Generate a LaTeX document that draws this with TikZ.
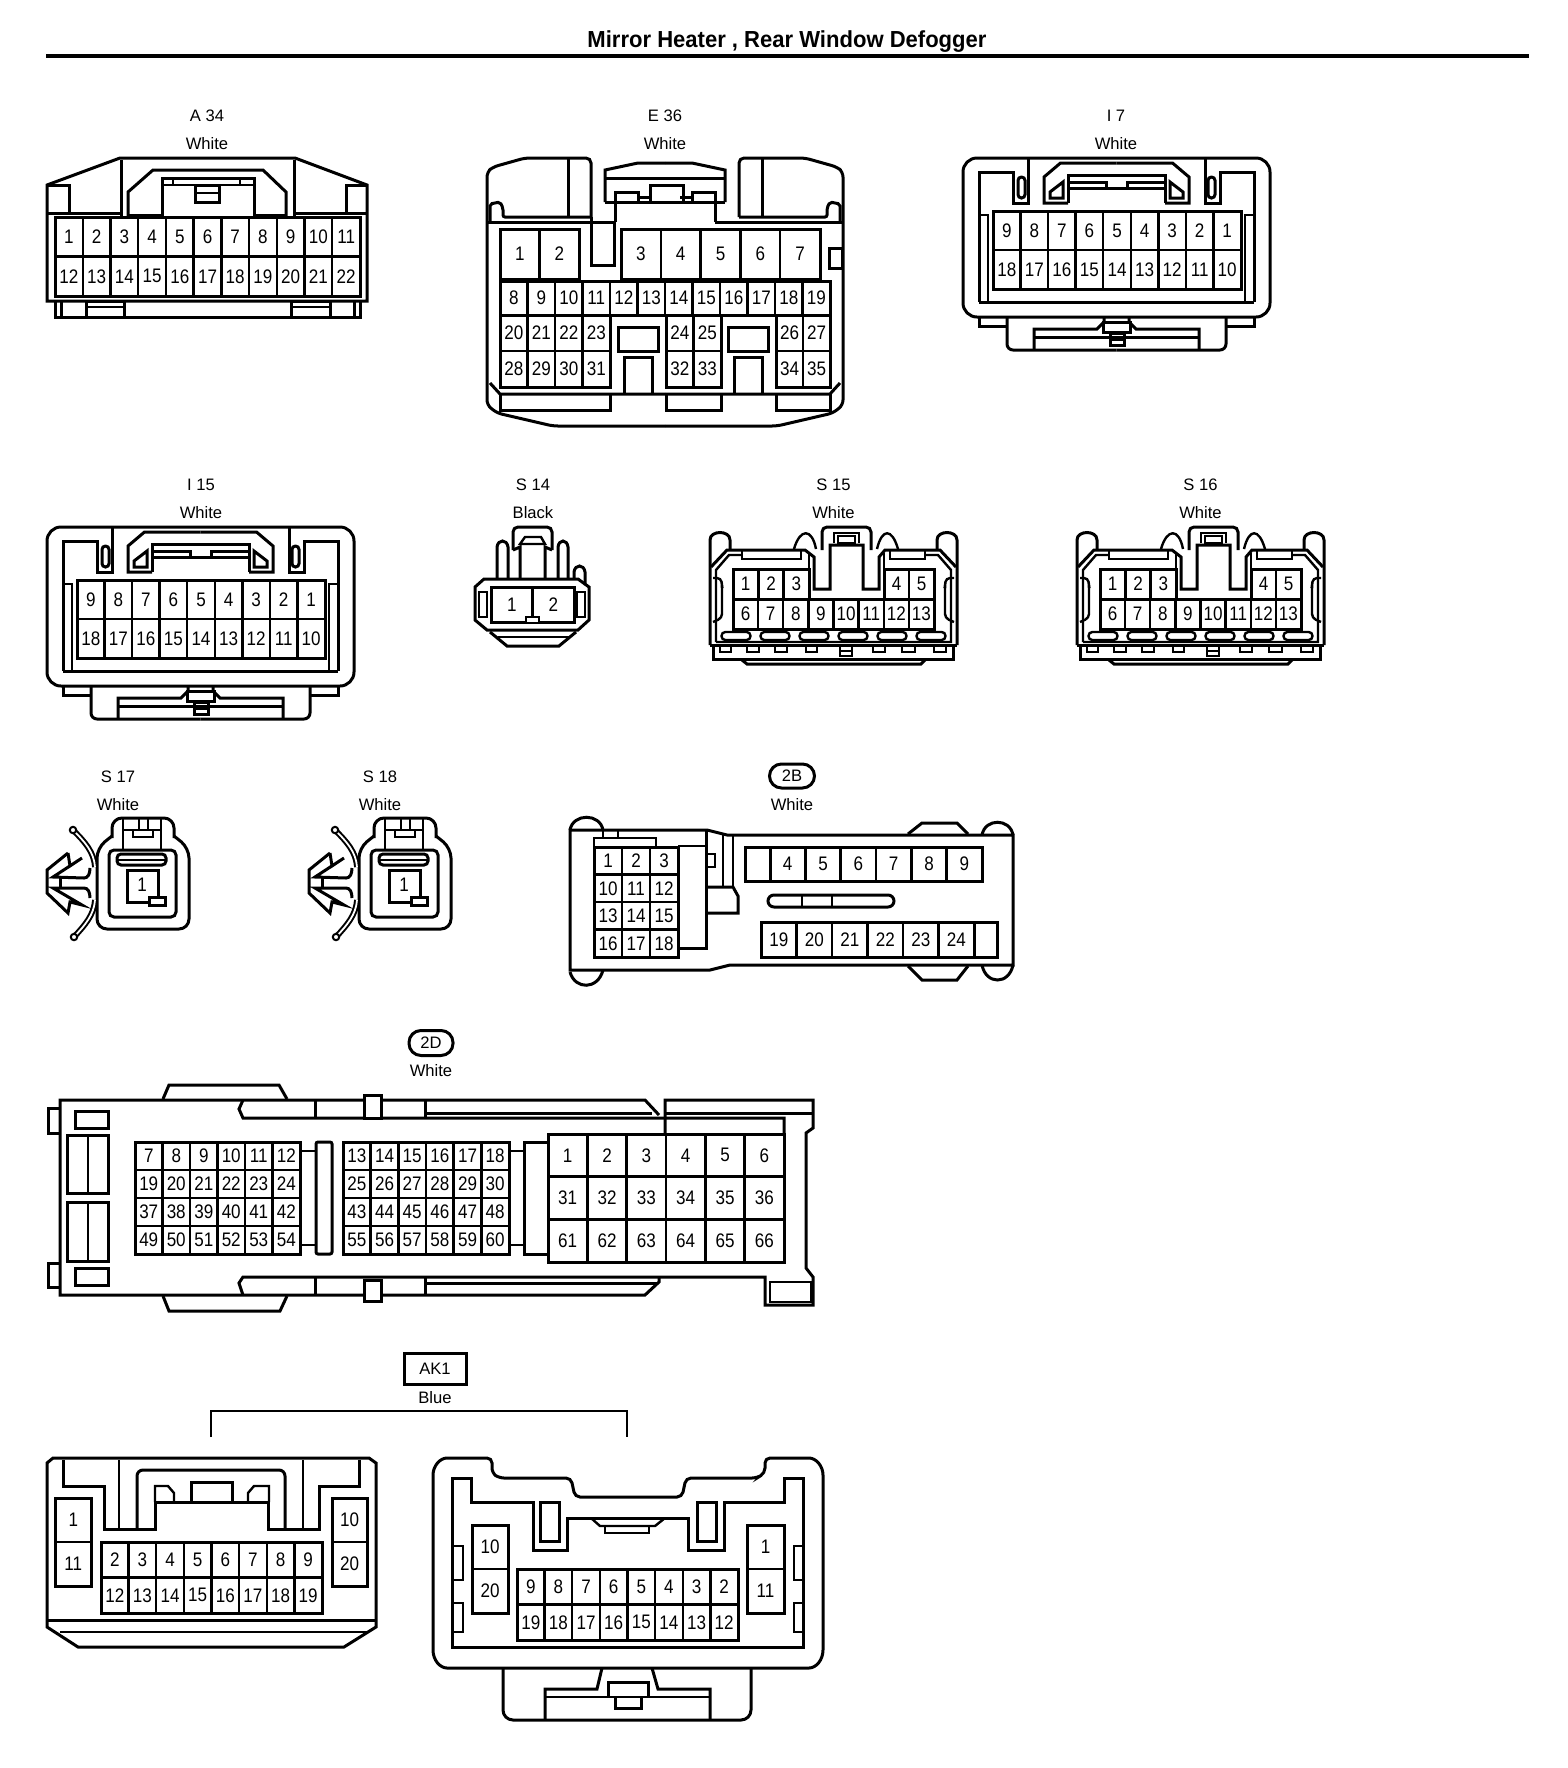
\documentclass[tikz,border=0pt]{standalone}
\usepackage{fontspec}
\setmainfont{Liberation Sans}
\newfontfamily\pinf[FakeStretch=0.87]{Liberation Sans}
\newfontfamily\ttlf[FakeStretch=0.95]{Liberation Sans}
\tikzset{
  x=0.5pt,y=-0.5pt,
  cn/.style={draw=black,line width=1.5pt,line join=miter,line cap=butt,fill=none},
  cg/.style={draw=black,line width=1.2pt,fill=none},
  pin/.style={inner sep=0pt,font=\pinf\fontsize{9.8}{10}\selectfont,text=black},
  lab/.style={inner sep=0pt,font=\fontsize{8.3}{10}\selectfont,text=black},
  ttl/.style={inner sep=0pt,font=\ttlf\bfseries\fontsize{11.6}{13}\selectfont,text=black}
}
\newcommand\pingrid[7]{% name x0 y0 x1 y1 ncol list
 \foreach \t [count=\k from 0] in {#7} {
  \pgfmathtruncatemacro\cc{mod(\k,#6)}
  \pgfmathtruncatemacro\rr{int(\k/#6)}
  \pgfmathsetmacro\xa{#2+(#4-#2)*\cc/#6}
  \pgfmathsetmacro\xb{#2+(#4-#2)*(\cc+1)/#6}
  \pgfmathsetmacro\ya{#3+(#5-#3)*\rr/\NR}
  \pgfmathsetmacro\yb{#3+(#5-#3)*(\rr+1)/\NR}
  \draw[cg] (\xa,\ya) rectangle (\xb,\yb);
  \node[pin] (#1-\k) at ({(\xa+\xb)/2},{(\ya+\yb)/2}) {\t};
 }
 \draw[cn] (#2,#3) rectangle (#4,#5);}
\def\NR{1}
\newcommand\ihalf{%
  \draw[cn] (-137.5,302)--(-137.5,172)--(-103.5,172)--(-103.5,203)--(-88.5,203)--(-88.5,158);
  \draw[cn,rounded corners=1.7pt] (-98.5,177) rectangle (-91.5,198);
  \draw[cg] (-137.5,215)--(-128.5,215)--(-128.5,302);
  \draw[cn] (-137.5,302)--(0,302);
  \draw[cn] (-48.5,203)--(-72.5,203)--(-72.5,177)--(-56,163)--(0,163);
  \draw[cn] (-48.5,203)--(-48.5,175)--(0,175);
  \draw[cn] (-48.5,188)--(0,188);
  \draw[cn] (-48.5,182)--(-10.5,182)--(-10.5,188);
  \draw[cn] (-53.5,182)--(-66.5,192)--(-66.5,198)--(-53.5,198)--cycle;
  \draw[cn] (-137.5,317)--(-137.5,326)--(-108.5,326);
  \draw[cn,rounded corners=3pt] (-109.5,317)--(-109.5,350)--(0,350);
  \draw[cn] (-82.5,350)--(-82.5,329)--(-19.5,329)--(-12.5,322)--(-12.5,317);
  \draw[cn] (-82.5,337)--(0,337);
}
\newcommand\iconn[2]{%
 \begin{scope}[shift={(1116.5,#1)}]
  \draw[cn,rounded corners=7pt] (-153.5,158) rectangle (153.5,317);
  \ihalf
  \begin{scope}[xscale=-1]\ihalf\end{scope}
  \draw[cn,fill=white] (-13,322) rectangle (14,332);
  \draw[cn] (-6.5,333) rectangle (7.5,345);
  \draw[cn] (-6.5,339)--(7.5,339);
  \def\NR{2}
  \pingrid{#2}{-123.5}{211}{124.5}{289}{9}{9,8,7,6,5,4,3,2,1,18,17,16,15,14,13,12,11,10}
 \end{scope}}
\newcommand\ehalf{%
  \draw[cn,rounded corners=2.5pt] (-74,217)--(-74,158)--(-140,158)--(-172,167)--(-178,172)--(-178,405)--(-168,413)--(-112,426)--(0,426);
  \draw[cn] (-97,158)--(-97,217);
  \draw[cn,rounded corners=1pt] (-175,222)--(-175,204)--(-165,202)--(-162,208)--(-162,217)--(-74,217);
  \draw[cn] (-178,222)--(-50,222);
  \draw[cn] (-60,202)--(-60,170)--(-27,163)--(0,163);
  \draw[cn] (-60,178)--(0,178);
  \draw[cn] (-60,202)--(0,202);
  \draw[cn] (-50,202)--(-50,222);
  \draw[cn] (-50,202)--(-50,192)--(-27,192)--(-27,202);
  \draw[cn] (-27,197)--(-15,197);
  \draw[cn] (-175,383)--(-165,394)--(0,394);
}
\newcommand\sconn[1]{%
 \begin{scope}[shift={(#1,0)}]
  \draw[cn] (710,645)--(710,540) .. controls (710,530) and (730,530) .. (730,540)--(730,550);
  \draw[cn] (937,550)--(937,540) .. controls (937,530) and (957,530) .. (957,540)--(957,645);
  \draw[cn] (711,567)--(727,550)--(805,550)--(814,557)--(814,589)--(830,589)--(830,545)--(863,545)--(863,589)--(879,589)--(879,557)--(885,550)--(940,550)--(956,567);
  \draw[cg] (716,642)--(716,570)--(729,555)--(742,555);
  \draw[cg] (925,555)--(938,555)--(951,570)--(951,642)--(716,642);
  \draw[cn] (710,645)--(957,645);
  \draw[cg] (742,551)--(742,559)--(801,559)--(801,551);
  \draw[cg] (890,551)--(890,559)--(925,559)--(925,551);
  \draw[cg] (809,553)--(809,569);
  \draw[cg] (884,553)--(884,569);
  \draw[cn,rounded corners=2.5pt] (822,550)--(822,527)--(871,527)--(871,550);
  \draw[cg] (834,543)--(834,533)--(859,533)--(859,543);
  \draw[cg] (838,536) rectangle (855,543);
  \draw[cg] (794,549) .. controls (800,528) and (812,528) .. (816,549);
  \draw[cg] (877,549) .. controls (882,528) and (892,528) .. (898,549);
  \draw[cg,rounded corners=2pt] (713,578)--(721,578)--(722,585)--(722,618)--(713,622);
  \draw[cg,rounded corners=2pt] (954,578)--(946,578)--(945,585)--(945,618)--(954,622);
  \foreach \c in {736,775,814,853,892,931}
    \draw[cg,rounded corners=1.9pt] (\c-14.5,632) rectangle (\c+14.5,640);
  \draw[cn] (713,647)--(713,659)--(953,659)--(953,647);
  \draw[cn] (742,660)--(747,664)--(921,664)--(925,660);
  \foreach \a/\b in {720/731,747/759,775/787,806/817,873/885,902/915,934/946}
    \draw[cg] (\a,645) rectangle (\b,652);
  \draw[cg] (840,645) rectangle (852,656);
  \draw[cg] (840,651)--(852,651);
  \def\NR{1}
  \pingrid{s#1a}{733}{569}{809}{599}{3}{1,2,3}
  \pingrid{s#1b}{884}{569}{934}{599}{2}{4,5}
  \pingrid{s#1c}{733}{599}{934}{629}{8}{6,7,8,9,10,11,12,13}
 \end{scope}}
\newcommand\clipconn[1]{%
 \begin{scope}[shift={(#1,0)}]
  \draw[cn,rounded corners=5pt] (112,838)--(112,818)--(174,818)--(174,838);
  \draw[cn,rounded corners=5pt] (174,836)--(189,848)--(189,929)--(97,929)--(97,848)--(112,836);
  \draw[cn,rounded corners=2.5pt] (109,850) rectangle (176,917);
  \draw[cg] (123,818)--(123,850);
  \draw[cg] (161,818)--(161,850);
  \draw[cg] (123,830)--(161,830);
  \draw[cg] (133,830)--(133,837)--(153,837)--(153,830);
  \draw[cg] (139,818)--(139,830);
  \draw[cg] (148,818)--(148,830);
  \draw[cn,rounded corners=2pt,fill=white] (117,854) rectangle (166,865);
  \draw[cg] (117,860)--(166,860);
  \draw[cn] (127,870) rectangle (158,902);
  \draw[cn,fill=white] (149,897) rectangle (165,905);
  \node[pin] (c#1) at (142,885) {1};
  \draw[cn,line width=1pt,double=white,double distance=0.9pt] (73,830) .. controls (85,842) and (94,852) .. (95,867);
  \draw[cn,line width=1pt,double=white,double distance=0.9pt] (74,937) .. controls (85,925) and (94,915) .. (95,900);
  \draw[cn,line width=1pt,fill=white] (73,830) circle (1.6pt);
  \draw[cn,line width=1pt,fill=white] (74,937) circle (1.6pt);
  \draw[cn] (68,853)--(47,870)--(47,893)--(68,913)--(70,902)--(82,905)--(53,888)--(84,888)
     .. controls (88,888) and (90,892) .. (90,898);
  \draw[cn] (68,853)--(70,866)--(82,858)--(53,877)--(84,878)
     .. controls (88,878) and (90,874) .. (90,868);
  \draw[cn] (60,878)--(60,888);
 \end{scope}}
\begin{document}
\begin{tikzpicture}
\useasboundingbox (0,0) rectangle (1568,1768);
\node[ttl] (title) at (787,42) {Mirror Heater , Rear Window Defogger};
\coordinate (rl) at (46,56); \coordinate (rr) at (1529,56);
\draw[line width=2pt] (rl)--(rr);

% A34
\node[lab] (a34t) at (207,116) {A 34};
\node[lab] (a34c) at (207,144) {White};
\draw[cn] (47,301)--(47,185)--(120,158)--(295,158)--(367,185)--(367,301)--cycle;
\draw[cn] (55,301)--(55,317)--(360,317)--(360,301);
\draw[cn] (61,301)--(61,317);\draw[cn] (354,301)--(354,317);
\draw[cn] (86,301) rectangle (124,317);\draw[cg] (86,307)--(124,307);
\draw[cn] (291,301) rectangle (330,317);\draw[cg] (291,307)--(330,307);
\draw[cn] (47,213)--(121,213);\draw[cn] (121,160)--(121,217);
\draw[cn] (128,217)--(128,192)--(153,170)--(263,170)--(286,192)--(286,217);
\draw[cn] (294,160)--(294,217);\draw[cn] (294,213)--(367,213);
\draw[cn] (128,215)--(162,215)--(162,178)--(254,178)--(254,215)--(286,215);
\draw[cg] (162,185)--(254,185);\draw[cg] (173,178)--(173,185);\draw[cg] (240,178)--(240,185);
\draw[cn] (195,185) rectangle (219,202);\draw[cg] (195,193)--(219,193);
\draw[cn] (47,185)--(69,185)--(69,213);\draw[cn] (367,185)--(346,185)--(346,213);
\def\NR{2}
\pingrid{a}{55}{217}{360}{296}{11}{1,2,3,4,5,6,7,8,9,10,11,12,13,14,15,16,17,18,19,20,21,22}

% E36
\node[lab] (e36t) at (665,116) {E 36};
\node[lab] (e36c) at (665,144) {White};
\begin{scope}[shift={(665,0)}]\ehalf\begin{scope}[xscale=-1]\ehalf\end{scope}\end{scope}
\draw[cn] (591,217)--(591,265)--(614,265)--(614,222);
\def\NR{1}
\pingrid{e1}{500}{229}{579}{279}{2}{1,2}
\pingrid{e2}{621}{229}{820}{279}{5}{3,4,5,6,7}
\pingrid{e3}{500}{281}{830}{315}{12}{8,9,10,11,12,13,14,15,16,17,18,19}
\def\NR{2}
\pingrid{e4}{500}{315}{610}{387}{4}{20,21,22,23,28,29,30,31}
\pingrid{e5}{666}{315}{721}{387}{2}{24,25,32,33}
\pingrid{e6}{776}{315}{830}{387}{2}{26,27,34,35}
\draw[cn] (618,327) rectangle (658,351);\draw[cn] (728,327) rectangle (768,351);
\draw[cn] (624,394)--(624,357)--(652,357)--(652,394);
\draw[cn] (734,394)--(734,357)--(762,357)--(762,394);
\draw[cn] (500,394)--(500,410)--(610,410)--(610,394);
\draw[cn] (666,394)--(666,410)--(721,410)--(721,394);
\draw[cn] (776,394)--(776,410)--(830,410)--(830,394);
\draw[cn] (650,202)--(650,185)--(683,185)--(683,202);
\draw[cn] (829,248) rectangle (842,268);

% I7, I15
\node[lab] (i7t) at (1116,116) {I 7};
\node[lab] (i7c) at (1116,144) {White};
\iconn{0}{i7}
\node[lab] (i15t) at (201,485) {I 15};
\node[lab] (i15c) at (201,513) {White};
\begin{scope}[shift={(-916,369)}]\iconn{0}{i15}\end{scope}

% S14
\node[lab] (s14t) at (533,485) {S 14};
\node[lab] (s14c) at (533,513) {Black};
\draw[cn,rounded corners=2.5pt] (513,550)--(513,527)--(552,527)--(552,550);
\draw[cn] (513,550)--(520,547)--(520,578);\draw[cn] (552,550)--(545,547)--(545,578);
\draw[cg] (520,544)--(525,537)--(541,537)--(545,544)--cycle;
\draw[cn] (497,578)--(497,547) .. controls (498,539) and (507,539) .. (508,547)--(508,578);
\draw[cn] (558,578)--(558,547) .. controls (559,539) and (567,539) .. (568,547)--(568,578);
\draw[cn] (574,579)--(574,572) .. controls (575,564) and (584,564) .. (585,572)--(585,585);
\draw[cn] (484,579)--(578,579)--(589,587)--(589,620)--(578,630)--(487,630)--(475,620)--(475,587)--cycle;
\draw[cg] (479,592) rectangle (487,617);\draw[cg] (577,592) rectangle (585,617);
\draw[cg] (498,637)--(569,637);
\draw[cn] (490,632)--(507,646)--(559,646)--(576,632);
\def\NR{1}
\pingrid{s14}{491}{587}{574}{622}{2}{1,2}
\draw[cg,fill=white] (526,617) rectangle (539,623);

% S15 S16
\node[lab] (s15t) at (833.5,485) {S 15};
\node[lab] (s15c) at (833.5,513) {White};
\sconn{0}
\node[lab] (s16t) at (1200.5,485) {S 16};
\node[lab] (s16c) at (1200.5,513) {White};
\sconn{367}

% S17 S18
\node[lab] (s17t) at (118,777) {S 17};
\node[lab] (s17c) at (118,805) {White};
\clipconn{0}
\node[lab] (s18t) at (380,777) {S 18};
\node[lab] (s18c) at (380,805) {White};
\clipconn{262}

% 2B
\node[lab,draw,line width=1.5pt,rounded corners=6pt,minimum width=22.5pt,minimum height=12pt] (b2t) at (792,776) {2B};
\node[lab] (b2c) at (792,805) {White};
\draw[cn] (570,970)--(570,830)--(707,830)--(727,835)--(1013,835)--(1013,965)--(730,965)--(710,970)--cycle;
\draw[cn] (570,830) .. controls (573,813) and (600,813) .. (603,830);
\draw[cn] (570,972) .. controls (575,990) and (598,990) .. (603,970);
\draw[cn] (982,835) .. controls (985,818) and (1010,818) .. (1013,835);
\draw[cn] (982,965) .. controls (986,985) and (1009,985) .. (1013,965);
\draw[cn] (908,834)--(922,823)--(957,823)--(968,834);
\draw[cn] (908,966)--(922,980)--(957,980)--(968,966);
\def\NR{4}
\pingrid{b1}{594}{847}{678}{957}{3}{1,2,3,10,11,12,13,14,15,16,17,18}
\draw[cg] (594,847)--(594,838)--(656,838)--(656,847);
\draw[cg] (603,830)--(603,838);\draw[cg] (618,830)--(618,838);
\draw[cg] (678,846)--(707,846);
\draw[cn] (706,830)--(706,948)--(678,948);
\draw[cg] (707,854)--(715,854)--(715,867)--(707,867);
\draw[cg] (723,833)--(723,887);\draw[cg] (733,835)--(733,887);
\draw[cn] (706,887)--(733,887)--(738,896)--(738,913)--(706,913);
\def\NR{1}
\draw[cn] (745,847) rectangle (770,881);
\pingrid{b2}{770}{847}{982}{881}{6}{4,5,6,7,8,9}
\pingrid{b3}{761}{922}{974}{957}{6}{19,20,21,22,23,24}
\draw[cn] (974,922) rectangle (997,957);
\draw[cn,rounded corners=3pt] (768,895) rectangle (894,907);
\draw[cg] (802,895)--(802,907);\draw[cg] (832,895)--(832,907);

% 2D
\node[lab,draw,line width=1.5pt,rounded corners=6pt,minimum width=22pt,minimum height=12.5pt] (d2t) at (431,1043) {2D};
\node[lab] (d2c) at (431,1071) {White};
\draw[cn] (659,1115)--(645,1100)--(60,1100)--(60,1295)--(645,1295)--(659,1282)--(659,1277);
\draw[cn] (665,1135)--(665,1100)--(813,1100)--(813,1128)--(806,1133)--(806,1268)--(813,1277)--(813,1305)--(765,1305)--(765,1277)--(243,1277)--(239,1283)--(243,1295);
\draw[cn] (243,1100)--(239,1109)--(243,1118)--(784,1118)--(784,1134);
\draw[cn] (665,1113)--(813,1113);
\draw[cn] (425,1113)--(652,1113);
\draw[cn] (425,1283)--(658,1283);
\draw[cn] (315,1100)--(315,1118);\draw[cn] (425,1100)--(425,1118);
\draw[cn] (315,1277)--(315,1295);\draw[cn] (425,1277)--(425,1295);
\draw[cn,fill=white] (364,1095) rectangle (381,1118);
\draw[cn,fill=white] (364,1280) rectangle (381,1301);
\draw[cn] (163,1099)--(169,1085)--(279,1085)--(287,1099);
\draw[cn] (163,1296)--(169,1311)--(280,1311)--(287,1296);
\draw[cn] (60,1108)--(48,1108)--(48,1133)--(60,1133);
\draw[cn] (60,1263)--(48,1263)--(48,1287)--(60,1287);
\draw[cn] (75,1111) rectangle (108,1128);
\draw[cn] (75,1268) rectangle (108,1285);
\draw[cn] (67,1135) rectangle (108,1193);\draw[cg] (88,1135)--(88,1193);
\draw[cn] (67,1202) rectangle (108,1261);\draw[cg] (88,1202)--(88,1261);
\def\NR{4}
\pingrid{d1}{135}{1142}{300}{1254}{6}{7,8,9,10,11,12,19,20,21,22,23,24,37,38,39,40,41,42,49,50,51,52,53,54}
\pingrid{d2}{343}{1142}{509}{1254}{6}{13,14,15,16,17,18,25,26,27,28,29,30,43,44,45,46,47,48,55,56,57,58,59,60}
\draw[cg] (300,1151)--(316,1151);\draw[cg] (300,1245)--(316,1245);
\draw[cn,rounded corners=1pt] (316,1142) rectangle (332,1254);
\draw[cg] (509,1151)--(524,1151);\draw[cg] (509,1245)--(524,1245);
\draw[cn] (548,1142)--(524,1142)--(524,1254)--(548,1254);
\def\NR{3}
\pingrid{d3}{548}{1134}{784}{1262}{6}{1,2,3,4,5,6,31,32,33,34,35,36,61,62,63,64,65,66}
\draw[cg] (770,1282) rectangle (811,1302);

% AK1
\node[lab,draw,line width=1.5pt,minimum width=31pt,minimum height=15.5pt] (ak1t) at (435,1369) {AK1};
\node[lab] (ak1c) at (435,1398) {Blue};
\coordinate (bl) at (211,1437);\coordinate (br) at (627,1437);
\draw[cg] (bl)--(211,1411)--(627,1411)--(br);
\draw[cn] (47,1463)--(53,1458)--(369,1458)--(376,1463)--(376,1627)--(344,1647)--(78,1647)--(47,1627)--cycle;
\draw[cn] (47,1620)--(376,1620);
\draw[cg] (60,1632)--(367,1632);
\draw[cn] (63,1460)--(63,1486)--(104,1486)--(104,1529)--(155,1529)--(155,1502)--(268,1502)--(268,1529)--(319,1529)--(319,1486)--(359,1486)--(359,1460);
\draw[cg] (119,1460)--(119,1529);\draw[cg] (303,1460)--(303,1529);
\draw[cn,rounded corners=3pt] (137,1529)--(137,1470)--(285,1470)--(285,1529);
\draw[cg] (155,1502)--(155,1486)--(168,1486)--(174,1493)--(174,1502);
\draw[cg] (269,1502)--(269,1486)--(254,1486)--(248,1493)--(248,1502);
\draw[cn] (191,1502)--(191,1482)--(232,1482)--(232,1502);
\def\NR{2}
\pingrid{k1}{55.5}{1498}{91}{1586}{1}{1,11}
\pingrid{k2}{332}{1498}{367}{1586}{1}{10,20}
\pingrid{k3}{101}{1542}{322}{1613}{8}{2,3,4,5,6,7,8,9,12,13,14,15,16,17,18,19}
\draw[cn,rounded corners=2.5pt] (433,1480) .. controls (433,1466) and (440,1458) .. (452,1458)--(492,1458)--(492,1473)--(499,1478)--(571,1478)--(575,1497)--(682,1497)--(686,1478)--(757,1478)--(765,1473)--(765,1458)--(804,1458) .. controls (816,1458) and (823,1466) .. (823,1480)--(823,1645) .. controls (823,1660) and (816,1668) .. (804,1668)--(452,1668) .. controls (440,1668) and (433,1660) .. (433,1645)--cycle;
\draw[cn] (452,1478)--(471,1478)--(471,1502)--(533,1502)--(533,1550)--(567,1550)--(567,1518)--(688,1518)--(688,1550)--(724,1550)--(724,1502)--(784,1502)--(784,1478)--(803,1478)--(803,1647)--(452,1647)--cycle;
\draw[cn] (540,1502) rectangle (559,1541);\draw[cn] (697,1502) rectangle (716,1541);
\draw[cg] (591,1518)--(600,1526)--(655,1526)--(665,1518);
\draw[cg] (605,1526)--(605,1533)--(649,1533)--(649,1526);
\pingrid{k4}{472}{1525}{508}{1613}{1}{10,20}
\pingrid{k5}{747}{1525}{784}{1613}{1}{1,11}
\pingrid{k6}{517}{1569}{738}{1640}{8}{9,8,7,6,5,4,3,2,19,18,17,16,15,14,13,12}
\draw[cg] (452,1546) rectangle (463,1580);\draw[cg] (452,1603) rectangle (463,1632);
\draw[cg] (794,1546) rectangle (803,1580);\draw[cg] (794,1603) rectangle (803,1632);
\draw[cn,rounded corners=5pt] (503,1668)--(503,1720)--(751,1720)--(751,1668);
\draw[cn] (545,1720)--(545,1689)--(597,1689)--(602,1668);
\draw[cn] (710,1720)--(710,1689)--(658,1689)--(652,1668);
\draw[cg] (545,1697)--(710,1697);
\draw[cn] (608,1697)--(608,1682)--(648,1682)--(648,1697);
\draw[cn] (615,1697)--(615,1708)--(641,1708)--(641,1697);
\end{tikzpicture}
\end{document}
